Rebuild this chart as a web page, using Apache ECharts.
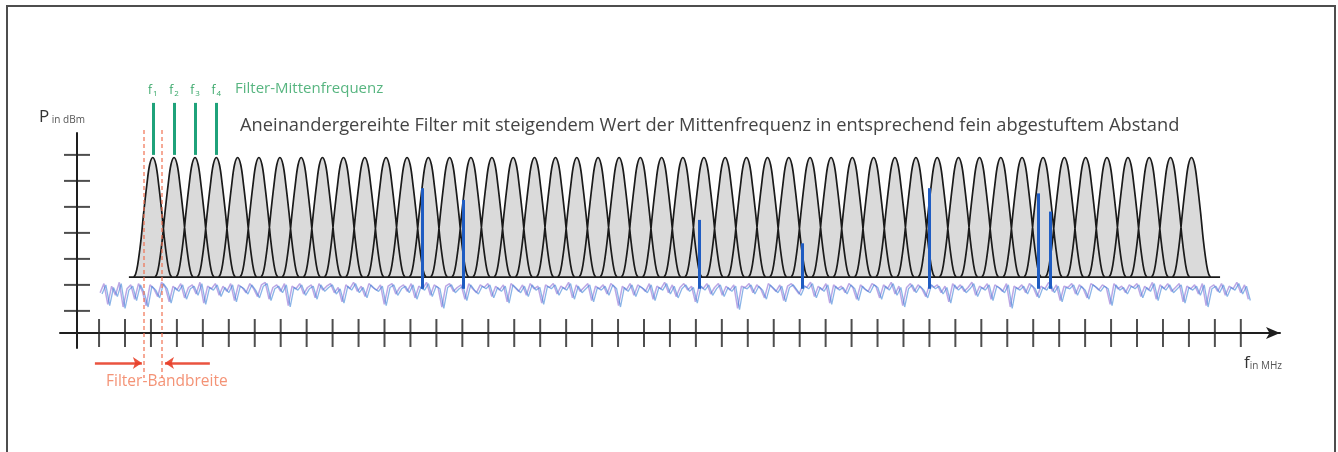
<!DOCTYPE html>
<html>
<head>
<meta charset="utf-8">
<title>Filterbank</title>
<script src="https://cdn.jsdelivr.net/npm/echarts@6.0.0/dist/echarts.min.js"></script>
<style>
  html, body { margin: 0; padding: 0; background: #fff; overflow: hidden; }
  #frame { position: absolute; left: 6px; top: 5px; width: 1326px; height: 470px;
           border: 2px solid #4d4d4d; border-bottom: none; box-sizing: content-box; }
  #chart { position: absolute; left: 0; top: 0; width: 1338px; height: 452px; }
</style>
</head>
<body>
<div id="frame"></div>
<div id="chart"></div>
<script>
// axis tick positions (one unit = one tick step)
const xTicks = [0.85, 1.85, 2.85, 3.85, 4.85, 5.85, 6.85, 7.85, 8.85, 9.85,
  10.85, 11.85, 12.85, 13.85, 14.85, 15.85, 16.85, 17.85, 18.85, 19.85,
  20.85, 21.85, 22.85, 23.85, 24.85, 25.85, 26.85, 27.85, 28.85, 29.85,
  30.85, 31.85, 32.85, 33.85, 34.85, 35.85, 36.85, 37.85, 38.85, 39.85,
  40.85, 41.85, 42.85, 43.85, 44.85];
const yTicks = [0.85, 1.85, 2.85, 3.85, 4.85, 5.85, 6.85];

// filter centre frequencies
const filterCenters = [2.92, 3.74, 4.55, 5.37, 6.19, 7.01, 7.82, 8.64, 9.46, 10.27,
  11.09, 11.91, 12.72, 13.54, 14.36, 15.18, 15.99, 16.81, 17.63, 18.44,
  19.26, 20.08, 20.89, 21.71, 22.53, 23.35, 24.16, 24.98, 25.80, 26.61,
  27.43, 28.25, 29.06, 29.88, 30.70, 31.52, 32.33, 33.15, 33.97, 34.78,
  35.60, 36.42, 37.23, 38.05, 38.87, 39.69, 40.50, 41.32, 42.14, 42.95];
// shape of one filter curve: offset from centre, level
const profileDx = [-0.73, -0.66, -0.58, -0.46, -0.35, -0.23, -0.12, 0, 0.12, 0.23, 0.35, 0.46, 0.58, 0.66, 0.73];
const profileP = [2.15, 2.27, 2.63, 3.53, 4.63, 5.69, 6.47, 6.75, 6.47, 5.69, 4.63, 3.53, 2.63, 2.27, 2.15];
const filterBase = 2.15;
const baselineX = [2.0, 44.05];

// noise floor
const noiseStart = 0.89;
const noiseStep = 0.148;
const noiseP = [
  1.55, 1.9, 1.1, 1.8, 1.45, 1.95, 1.0, 1.7, 1.85, 1.3, 1.9, 1.6, 1.05, 1.85, 1.7, 1.4, 1.95, 1.75, 1.2, 1.8,
  1.65, 1.9, 1.35, 1.75, 1.85, 1.5, 1.95, 1.15, 1.8, 1.7, 1.9, 1.45, 1.8, 1.6, 1.9, 1.25, 1.85, 1.75, 1.55, 1.9,
  1.7, 1.4, 1.85, 1.95, 1.3, 1.75, 1.85, 1.6, 1.9, 1.05, 1.8, 1.7, 1.9, 1.5, 1.75, 1.85, 1.35, 1.9, 1.65, 1.8,
  1.9, 1.55, 1.75, 1.2, 1.85, 1.7, 1.95, 1.6, 1.8, 1.4, 1.9, 1.75, 1.65, 1.85, 1.1, 1.8, 1.9, 1.5, 1.75, 1.85,
  1.6, 1.9, 1.35, 1.8, 1.7, 1.95, 1.45, 1.85, 1.75, 1.0, 1.8, 1.9, 1.6, 1.75, 1.85, 1.3, 1.9, 1.7, 1.55, 1.85,
  1.75, 1.9, 1.4, 1.8, 1.65, 1.85, 1.2, 1.9, 1.75, 1.6, 1.85, 1.45, 1.9, 1.7, 1.8, 1.15, 1.85, 1.75, 1.9, 1.5,
  1.8, 1.7, 1.95, 1.35, 1.85, 1.6, 1.75, 1.9, 1.25, 1.8, 1.7, 1.85, 1.5, 1.9, 1.75, 1.05, 1.8, 1.65, 1.9, 1.45,
  1.85, 1.75, 1.6, 1.9, 1.3, 1.8, 1.7, 1.95, 1.55, 1.85, 1.4, 1.75, 1.9, 1.65, 1.8, 1.2, 1.85, 1.7, 1.9, 1.5,
  1.75, 1.9, 1.45, 1.8, 1.65, 1.85, 0.95, 1.8, 1.75, 1.9, 1.55, 1.85, 1.7, 1.35, 1.9, 1.75, 1.6, 1.85, 1.25, 1.8,
  1.9, 1.7, 1.5, 1.85, 1.75, 1.95, 1.4, 1.8, 1.65, 1.9, 1.15, 1.85, 1.7, 1.8, 1.55, 1.9, 1.75, 1.3, 1.85, 1.7,
  1.6, 1.9, 1.8, 1.35, 1.85, 1.7, 1.95, 1.5, 1.8, 1.05, 1.75, 1.9, 1.6, 1.85, 1.7, 1.4, 1.9, 1.75, 1.85, 1.55,
  1.8, 1.2, 1.9, 1.7, 1.85, 1.6, 1.75, 1.95, 1.45, 1.8, 1.7, 1.9, 1.3, 1.85, 1.75, 1.6, 1.9, 1.0, 1.8, 1.7,
  1.85, 1.55, 1.9, 1.75, 1.4, 1.8, 1.7, 1.95, 1.6, 1.85, 1.25, 1.8, 1.75, 1.9, 1.5, 1.85, 1.7, 1.35, 1.9, 1.8,
  1.65, 1.85, 1.75, 1.1, 1.9, 1.7, 1.8, 1.55, 1.85, 1.75, 1.9, 1.4, 1.8, 1.65, 1.95, 1.3, 1.85, 1.7, 1.9, 1.6,
  1.75, 1.9, 1.2, 1.8, 1.7, 1.85, 1.5, 1.9, 1.05, 1.75, 1.85, 1.6, 1.9, 1.45, 1.8, 1.7, 1.95, 1.55, 1.85, 1.3
];

// signals (blue lines)
const signalX = [13.32, 14.89, 23.99, 27.93, 32.84, 37.04, 37.49];
const signalTop = [5.57, 5.12, 4.35, 3.45, 5.57, 5.37, 4.67];
const signalFoot = 1.7;

// centre-frequency markers f1..f4 and bandwidth of the first filter
const markerNames = ['1', '2', '3', '4'];
const markerTop = 8.85;
const markerBottom = 6.85;
const bandEdges = [2.59, 3.26];
const bandTop = 7.81;
const bandBottom = -1.73;
const bandArrowY = -1.15;
const bandArrows = [[0.69, 2.50], [5.12, 3.39]];

const chart = echarts.init(document.getElementById('chart'));

const filterData = [];
filterCenters.forEach(c => {
  profileDx.forEach((d, i) => filterData.push([c + d, profileP[i]]));
  filterData.push(null);
});

const noiseA = noiseP.map((v, i) => [noiseStart + i * noiseStep, v]);
const noiseB = noiseP.map((v, i) => [noiseStart + i * noiseStep + 0.074, v - 0.05]);

const subStyle = { fontSize: 10, fontFamily: 'Open Sans', fill: '#555', verticalAlign: 'bottom', padding: [7, 0, 0, 0] };

const option = {
  animation: false,
  grid: { left: 60, right: 58, top: 133, bottom: 104, containLabel: false },
  xAxis: {
    type: 'value', min: -0.655, max: 46.36,
    axisLine: { onZero: true, symbol: ['none', 'arrow'], symbolSize: [9, 14],
      lineStyle: { color: '#1e1e1e', width: 2 } },
    axisTick: { show: false }, axisLabel: { show: false }, splitLine: { show: false }
  },
  yAxis: {
    type: 'value', min: -0.577, max: 7.692,
    axisLine: { onZero: true, lineStyle: { color: '#1e1e1e', width: 2 } },
    axisTick: { show: false }, axisLabel: { show: false }, splitLine: { show: false }
  },
  graphic: [
    { type: 'text', x: 39, y: 117, style: {
      text: '{p|P}{s| in dBm}', verticalAlign: 'middle',
      rich: { p: { fontSize: 17, fontFamily: 'Open Sans', fill: '#333' }, s: subStyle } } },
    { type: 'text', x: 1244, y: 363, style: {
      text: '{p|f}{s|in MHz}', verticalAlign: 'middle',
      rich: { p: { fontSize: 17, fontFamily: 'Open Sans', fill: '#333' }, s: subStyle } } },
    { type: 'text', x: 240, y: 126, style: {
      text: 'Aneinandergereihte Filter mit steigendem Wert der Mittenfrequenz in entsprechend fein abgestuftem Abstand',
      font: '18.3px "Open Sans"', fill: '#444', verticalAlign: 'middle' } },
    { type: 'text', x: 235, y: 89, style: {
      text: 'Filter-Mittenfrequenz', font: '15px "Open Sans"', fill: '#3aa86a', verticalAlign: 'middle', opacity: 0.85 } },
    { type: 'text', x: 106, y: 382, style: {
      text: 'Filter-Bandbreite', font: '15.5px "Open Sans"', fill: '#f2805e', verticalAlign: 'middle', opacity: 0.85 } }
  ],
  series: [
    {
      name: 'Filter', type: 'line', data: filterData, showSymbol: false, smooth: 0.35,
      connectNulls: false, z: 3,
      lineStyle: { color: '#1a1a1a', width: 1.7 },
      areaStyle: { color: '#dadada', opacity: 1, origin: filterBase }
    },
    {
      name: 'Basis', type: 'line', data: baselineX.map(x => [x, filterBase]), showSymbol: false, z: 3,
      lineStyle: { color: '#1a1a1a', width: 1.7 }
    },
    {
      name: 'RauschenA', type: 'line', data: noiseA, showSymbol: false, z: 4,
      lineStyle: { color: 'rgba(150,120,215,0.65)', width: 1.5 }
    },
    {
      name: 'RauschenB', type: 'line', data: noiseB, showSymbol: false, z: 4,
      lineStyle: { color: 'rgba(60,130,215,0.6)', width: 1.3 }
    },
    {
      name: 'Signale', type: 'lines', coordinateSystem: 'cartesian2d', clip: false, z: 5,
      lineStyle: { color: '#1f5cc2', width: 3, opacity: 1 },
      data: signalX.map((x, i) => ({ coords: [[x, signalFoot], [x, signalTop[i]]] }))
    },
    {
      name: 'Mittenfrequenz', type: 'lines', coordinateSystem: 'cartesian2d', clip: false, z: 5,
      lineStyle: { color: '#1fa27a', width: 3, opacity: 1 },
      label: {
        show: true, position: 'start', distance: 5,
        formatter: p => '{f|f}{s|' + p.name + '}',
        rich: { f: { fontSize: 12, color: '#3aa86a', fontFamily: 'Open Sans' },
                s: { fontSize: 8, color: '#3aa86a', fontFamily: 'Open Sans', verticalAlign: 'bottom', padding: [6, 0, 0, 1] } }
      },
      data: markerNames.map((n, i) => ({ name: n, coords: [[filterCenters[i], markerTop], [filterCenters[i], markerBottom]] }))
    },
    {
      name: 'Bandbreite', type: 'lines', coordinateSystem: 'cartesian2d', clip: false, z: 6,
      lineStyle: { color: '#f07050', width: 1.5, type: [4, 3], opacity: 0.8 },
      data: bandEdges.map(x => ({ coords: [[x, bandTop], [x, bandBottom]] }))
    },
    {
      name: 'Pfeile', type: 'lines', coordinateSystem: 'cartesian2d', clip: false, z: 6,
      symbol: ['none', 'arrow'], symbolSize: 9,
      lineStyle: { color: '#e8402a', width: 2.5, opacity: 0.9 },
      data: bandArrows.map(a => ({ coords: [[a[0], bandArrowY], [a[1], bandArrowY]] }))
    },
    {
      name: 'xTicks', type: 'scatter', symbol: 'rect', symbolSize: [2, 28], z: 7,
      itemStyle: { color: '#222' }, data: xTicks.map(x => [x, 0])
    },
    {
      name: 'yTicks', type: 'scatter', symbol: 'rect', symbolSize: [26, 2], z: 7,
      itemStyle: { color: '#222' }, data: yTicks.map(y => [0, y])
    }
  ]
};

chart.setOption(option);
</script>
</body>
</html>
